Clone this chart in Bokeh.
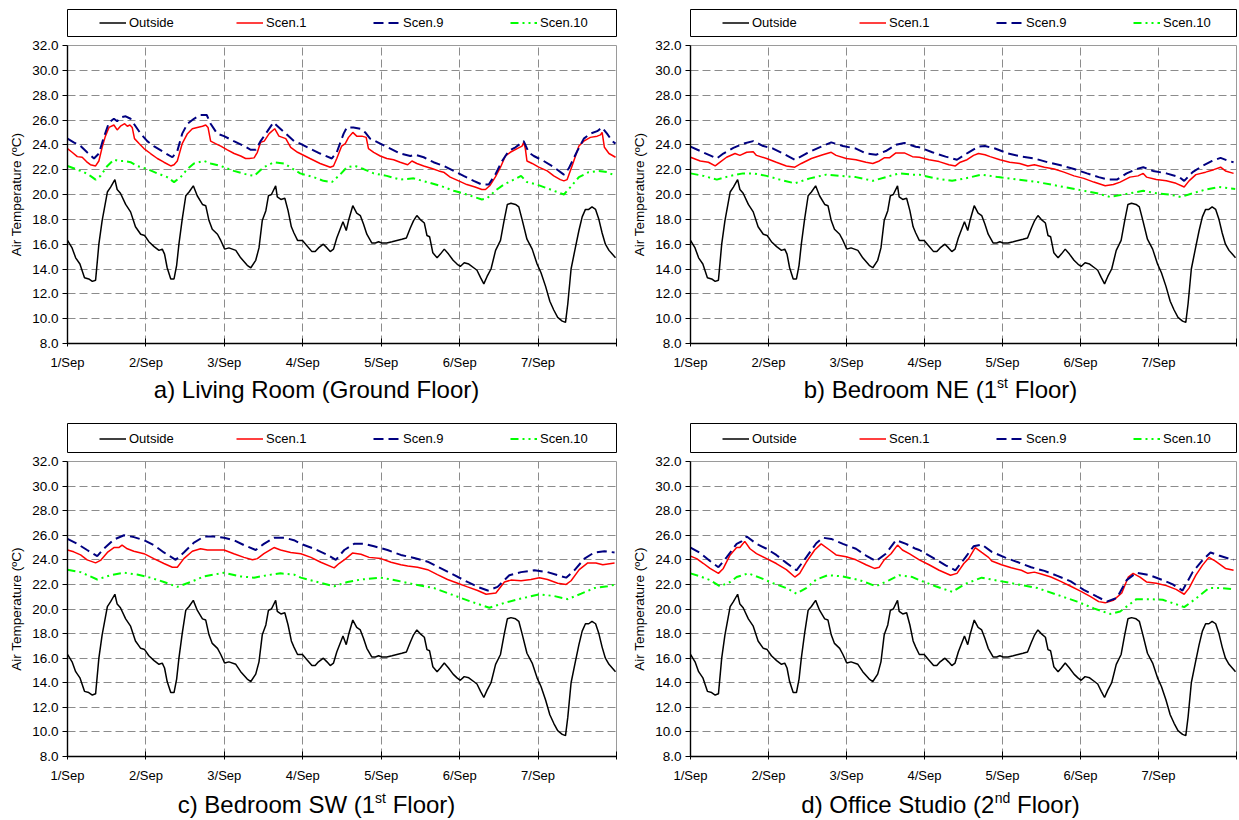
from bokeh.plotting import figure
from bokeh.models import (Range1d, FixedTicker, PrintfTickFormatter, Legend,
                          LegendItem, Label)
from bokeh.layouts import column, row
from bokeh.embed import file_html
from bokeh.resources import INLINE

FONT = "Liberation Sans"

# ---------------------------------------------------------------- data
# time axis in hours from 1 Sep 00:00
day_ticks = [0, 24, 48, 72, 96, 120, 144, 168]
day_labels = ["1/Sep", "2/Sep", "3/Sep", "4/Sep", "5/Sep", "6/Sep", "7/Sep", ""]
temp_ticks = [8, 10, 12, 14, 16, 18, 20, 22, 24, 26, 28, 30, 32]
y_title = "Air Temperature (ºC)"
series_names = ["Outside", "Scen.1", "Scen.9", "Scen.10"]

# (hour, temperature in ºC)
outside = [
    (0, 16.3), (1.4, 15.7), (2.5, 14.9), (3.8, 14.4), (5.2, 13.3), (6.5, 13.2),
    (7.6, 13.0), (8.6, 13.1), (9.6, 16.0), (10.6, 17.9), (12.2, 20.2), (13.2, 20.6),
    (14.5, 21.2), (15.2, 20.4), (16.2, 20.1), (17.8, 19.2), (19.3, 18.6), (20.8, 17.4),
    (22.4, 16.8), (23.6, 16.7), (24.9, 16.2), (26.5, 15.8), (28.0, 15.5), (29.0, 15.6),
    (29.7, 15.2), (30.5, 14.1), (31.6, 13.2), (32.6, 13.2), (33.4, 14.3), (34.1, 16.0),
    (35.1, 18.0), (36.2, 19.9), (37.2, 20.2), (38.5, 20.7), (39.7, 19.9), (41.3, 19.2),
    (42.3, 19.1), (43.3, 17.9), (44.3, 17.2), (45.9, 16.8), (46.9, 16.3), (48.1, 15.6),
    (49.4, 15.7), (51.5, 15.5), (53.0, 14.9), (55.0, 14.3), (56.1, 14.1), (57.6, 14.7),
    (58.6, 15.7), (59.6, 17.9), (60.7, 18.7), (61.5, 19.9), (62.4, 20.0), (63.7, 20.7),
    (64.2, 19.8), (65.3, 19.6), (66.5, 19.7), (67.5, 18.7), (68.5, 17.4), (69.3, 16.9),
    (70.4, 16.3), (71.9, 16.3), (73.2, 15.9), (74.8, 15.4), (75.8, 15.4), (76.8, 15.7),
    (78.3, 16.0), (79.4, 15.7), (80.4, 15.4), (81.4, 15.6), (82.4, 16.5), (84.3, 17.8),
    (85.3, 17.1), (86.0, 17.9), (87.3, 19.1), (88.5, 18.5), (89.6, 18.3), (90.6, 17.6),
    (91.6, 16.8), (93.1, 16.1), (94.2, 16.1), (95.2, 16.2), (96.2, 16.1), (97.7, 16.1),
    (99.3, 16.2), (100.8, 16.3), (102.3, 16.4), (103.7, 16.5), (104.9, 17.3), (105.9, 17.9),
    (106.9, 18.3), (107.9, 18.0), (109.2, 17.7), (110.0, 16.7), (110.8, 16.6), (111.8, 15.3),
    (113.1, 14.9), (114.1, 15.2), (115.3, 15.6), (116.6, 15.2), (118.0, 14.7), (119.2, 14.4),
    (120.2, 14.2), (121.4, 14.5), (122.8, 14.4), (124.3, 14.1), (125.3, 13.9), (126.4, 13.3),
    (127.4, 12.8), (128.4, 13.4), (129.6, 14.0), (131.0, 15.5), (132.5, 16.3), (133.6, 17.9),
    (134.6, 19.2), (135.7, 19.3), (137.1, 19.2), (138.1, 19.0), (139.1, 18.0), (140.6, 16.4),
    (142.2, 15.6), (143.7, 14.4), (144.9, 13.7), (146.3, 12.6), (147.6, 11.4), (148.8, 10.7),
    (150.0, 10.1), (151.4, 9.8), (152.4, 9.7), (153.1, 11.2), (154.1, 14.0), (155.4, 15.7),
    (156.5, 17.1), (157.5, 18.2), (158.5, 18.8), (159.5, 18.8), (160.5, 19.0), (161.6, 18.8),
    (162.6, 18.0), (163.6, 16.9), (164.6, 16.0), (165.7, 15.5), (166.7, 15.2), (167.7, 14.9),
]

living_scen1 = [
    (0, 23.7), (1.4, 23.4), (3.0, 23.05), (4.5, 23.0), (5.8, 22.65), (7.0, 22.4), (8.6, 22.3),
    (9.6, 22.7), (10.6, 23.8), (11.6, 24.7), (12.7, 25.4), (14.2, 25.6), (15.2, 25.2),
    (16.2, 25.5), (17.5, 25.7), (18.3, 25.5), (19.1, 25.6), (19.8, 25.4), (20.5, 24.5),
    (21.9, 24.1), (23.4, 23.7), (25.4, 23.3), (27.5, 22.9), (29.5, 22.6), (31.6, 22.3),
    (32.6, 22.4), (33.6, 22.7), (35.1, 24.1), (36.7, 24.9), (38.2, 25.3), (39.7, 25.4),
    (41.3, 25.5), (42.3, 25.6), (43.0, 25.4), (43.8, 24.3), (45.3, 24.1), (46.9, 23.9),
    (48.9, 23.6), (51.0, 23.3), (53.0, 23.1), (54.5, 22.9), (55.6, 22.9), (57.1, 22.95),
    (58.1, 23.4), (59.1, 24.2), (60.2, 24.3), (61.7, 24.9), (63.4, 25.3), (64.7, 24.7),
    (66.8, 24.5), (68.3, 23.8), (70.4, 23.4), (74.2, 22.9), (77.3, 22.5), (80.4, 22.2),
    (81.4, 22.3), (82.4, 22.9), (83.9, 23.9), (85.0, 24.1), (86.0, 24.6), (87.3, 25.0),
    (88.5, 24.7), (90.1, 24.7), (91.4, 24.6), (92.1, 23.7), (93.7, 23.4), (95.7, 23.1),
    (97.7, 22.9), (99.8, 22.8), (101.8, 22.6), (104.1, 22.4), (105.4, 22.7), (106.9, 22.5),
    (109.0, 22.3), (111.5, 22.1), (113.6, 21.9), (115.1, 21.8), (117.1, 21.4), (119.7, 21.1),
    (122.2, 20.8), (124.7, 20.6), (126.8, 20.4), (127.9, 20.4), (129.2, 20.7), (130.9, 21.4),
    (132.5, 22.2), (134.0, 23.1), (135.5, 23.4), (137.6, 23.7), (139.1, 23.9), (139.6, 24.2),
    (140.1, 23.7), (140.6, 22.7), (142.2, 22.5), (144.2, 22.2), (146.8, 21.9), (148.8, 21.5),
    (150.8, 21.2), (151.9, 21.1), (152.9, 21.2), (154.4, 22.3), (156.5, 23.9), (158.0, 24.3),
    (160.0, 24.6), (162.1, 24.7), (163.1, 24.8), (163.6, 25.0), (164.3, 23.8), (165.7, 23.3),
    (167.7, 23.0),
]
living_scen9 = [
    (0, 24.5), (1.9, 24.2), (4.0, 23.9), (6.0, 23.4), (8.1, 22.9), (9.6, 23.3), (11.1, 24.6),
    (12.7, 25.8), (14.2, 26.1), (15.2, 25.9), (16.2, 26.2), (17.8, 26.3), (19.3, 26.1),
    (20.3, 25.7), (22.4, 24.9), (24.4, 24.3), (26.4, 23.9), (29.5, 23.4), (32.1, 23.0),
    (33.6, 23.5), (35.1, 24.9), (36.7, 25.7), (38.7, 26.1), (40.7, 26.4), (42.6, 26.4),
    (43.8, 25.7), (45.8, 24.9), (47.9, 24.7), (50.9, 24.3), (54.0, 23.9), (56.1, 23.6),
    (57.6, 23.6), (59.1, 24.3), (61.2, 25.1), (63.0, 25.8), (64.7, 25.4), (66.8, 24.9),
    (69.3, 24.3), (71.2, 24.1), (74.2, 23.7), (77.3, 23.3), (80.9, 22.9), (82.4, 23.4),
    (84.5, 24.9), (85.5, 25.4), (87.5, 25.4), (89.6, 25.3), (91.1, 25.0), (92.6, 24.5),
    (95.7, 24.1), (98.8, 23.7), (101.8, 23.3), (104.9, 23.1), (106.4, 23.2), (109.0, 23.0),
    (112.0, 22.6), (115.1, 22.3), (118.2, 21.9), (121.2, 21.5), (124.3, 21.1), (126.8, 20.8),
    (128.9, 20.8), (130.9, 21.6), (133.0, 22.7), (135.0, 23.5), (137.1, 23.8), (138.6, 24.1),
    (139.6, 24.3), (141.1, 23.4), (142.7, 23.1), (145.7, 22.7), (148.8, 22.2), (151.9, 21.6),
    (153.4, 22.1), (156.0, 23.5), (158.0, 24.5), (160.0, 24.9), (162.1, 25.1), (163.6, 25.4),
    (165.1, 24.9), (166.7, 24.3), (167.7, 24.1),
]
living_scen10 = [
    (0, 22.3), (2.5, 22.05), (5.0, 21.8), (7.0, 21.5), (8.6, 21.2), (10.1, 21.5), (12.2, 22.3),
    (14.2, 22.8), (15.7, 22.7), (17.3, 22.7), (19.3, 22.6), (21.3, 22.3), (24.4, 22.05),
    (27.5, 21.7), (30.5, 21.4), (32.6, 21.0), (34.6, 21.4), (36.7, 22.05), (38.7, 22.5),
    (41.8, 22.7), (43.8, 22.5), (46.9, 22.3), (50.9, 21.9), (55.0, 21.6), (57.1, 21.5),
    (60.1, 22.2), (63.2, 22.6), (66.3, 22.5), (69.3, 22.0), (71.2, 21.7), (75.3, 21.4),
    (78.3, 21.1), (80.9, 21.0), (83.4, 21.6), (85.5, 22.2), (88.0, 22.3), (90.6, 22.05),
    (93.7, 21.7), (97.7, 21.5), (101.8, 21.2), (105.9, 21.3), (110.0, 21.0), (114.1, 20.7),
    (118.2, 20.3), (122.2, 20.0), (126.8, 19.6), (128.4, 19.7), (130.9, 20.3), (133.5, 20.8),
    (136.6, 21.2), (138.8, 21.5), (140.6, 21.0), (143.7, 20.8), (147.8, 20.4), (151.9, 20.0),
    (153.9, 20.6), (156.5, 21.4), (159.5, 21.8), (162.6, 21.9), (165.1, 21.8), (167.7, 21.5),
]

bedroom_ne_scen1 = [
    (0, 23.0), (3.0, 22.7), (5.5, 22.6), (7.6, 22.3), (9.1, 22.6), (11.1, 23.0), (13.7, 23.3),
    (15.2, 23.15), (17.3, 23.4), (19.3, 23.45), (20.3, 23.15), (23.4, 22.9), (26.4, 22.6),
    (29.5, 22.3), (32.1, 22.2), (34.1, 22.5), (37.2, 22.9), (40.7, 23.2), (43.3, 23.4),
    (44.8, 23.15), (47.9, 22.9), (50.9, 22.8), (54.0, 22.6), (56.1, 22.5), (58.1, 22.7),
    (59.6, 22.95), (61.2, 22.95), (63.2, 23.35), (65.8, 23.35), (68.3, 23.05), (70.4, 23.0),
    (73.4, 22.8), (76.5, 22.65), (79.5, 22.4), (81.5, 22.3), (83.0, 22.6), (85.1, 22.8),
    (87.1, 23.15), (88.6, 23.3), (90.6, 23.2), (92.2, 23.05), (95.2, 22.8), (98.2, 22.6),
    (101.3, 22.5), (103.8, 22.3), (105.8, 22.4), (108.9, 22.2), (111.9, 22.05), (114.9, 21.8),
    (118.0, 21.5), (121.0, 21.3), (124.1, 21.0), (127.6, 20.7), (130.1, 20.8), (132.2, 21.0),
    (135.2, 21.4), (137.7, 21.5), (139.3, 21.7), (140.3, 21.4), (143.3, 21.2), (146.4, 21.1),
    (149.4, 20.9), (151.9, 20.6), (153.4, 21.1), (155.5, 21.6), (158.5, 21.8), (161.0, 22.0),
    (163.1, 22.2), (164.6, 21.9), (167.1, 21.7),
]
bedroom_ne_scen9 = [
    (0, 23.85), (3.0, 23.5), (6.0, 23.15), (8.1, 22.9), (10.1, 23.3), (13.2, 23.75),
    (16.2, 24.1), (19.3, 24.3), (22.4, 23.9), (25.4, 23.7), (28.5, 23.3), (32.1, 22.8),
    (35.6, 23.3), (39.7, 23.8), (43.3, 24.2), (46.9, 23.9), (50.9, 23.7), (54.0, 23.3),
    (57.1, 23.2), (60.1, 23.5), (63.2, 24.0), (65.8, 24.15), (69.3, 23.85), (70.4, 23.8),
    (74.4, 23.4), (78.5, 23.05), (82.0, 22.8), (85.6, 23.4), (88.6, 23.85), (90.6, 23.9),
    (93.7, 23.7), (97.7, 23.3), (101.8, 23.05), (105.8, 22.9), (109.9, 22.6), (113.9, 22.35),
    (118.0, 22.05), (122.0, 21.7), (125.6, 21.4), (128.6, 21.2), (131.2, 21.2), (134.2, 21.7),
    (137.2, 22.05), (139.3, 22.2), (142.3, 21.9), (146.4, 21.7), (150.4, 21.4), (151.9, 21.1),
    (154.5, 21.8), (157.5, 22.3), (160.5, 22.7), (163.1, 22.95), (165.6, 22.7), (167.1, 22.6),
]
bedroom_ne_scen10 = [
    (0, 21.7), (4.0, 21.5), (8.1, 21.2), (12.2, 21.5), (16.2, 21.7), (19.3, 21.7), (23.4, 21.5),
    (27.5, 21.2), (32.1, 20.9), (36.7, 21.3), (41.8, 21.6), (45.8, 21.5), (50.9, 21.4),
    (56.1, 21.1), (60.1, 21.4), (64.2, 21.7), (68.3, 21.6), (70.4, 21.6), (75.4, 21.3),
    (80.5, 21.1), (84.6, 21.3), (89.6, 21.6), (94.7, 21.4), (100.8, 21.2), (106.8, 21.0),
    (112.9, 20.7), (119.0, 20.4), (125.1, 20.1), (129.1, 19.8), (133.2, 20.0), (139.3, 20.3),
    (143.3, 20.1), (147.4, 20.0), (150.9, 19.8), (154.5, 20.1), (158.5, 20.4), (162.6, 20.6),
    (165.6, 20.5), (167.6, 20.45),
]

bedroom_sw_scen1 = [
    (0, 24.8), (1.9, 24.65), (4.0, 24.4), (6.0, 24.0), (8.6, 23.75), (10.1, 23.95),
    (12.2, 24.6), (14.2, 25.0), (15.7, 25.0), (16.7, 25.2), (18.3, 24.9), (20.3, 24.7),
    (23.4, 24.5), (26.4, 24.1), (29.5, 23.7), (32.1, 23.4), (33.6, 23.4), (35.6, 24.1),
    (38.2, 24.7), (40.7, 24.9), (42.8, 24.8), (44.8, 24.8), (47.9, 24.8), (50.9, 24.5),
    (54.0, 24.2), (56.6, 24.0), (58.1, 24.1), (60.1, 24.5), (63.2, 25.0), (65.2, 24.8),
    (68.3, 24.6), (71.4, 24.5), (74.5, 24.2), (77.5, 23.8), (81.6, 23.35), (83.1, 23.7),
    (85.2, 24.1), (87.2, 24.55), (89.8, 24.45), (92.3, 24.2), (95.9, 24.1), (99.0, 23.8),
    (102.0, 23.6), (104.1, 23.5), (107.1, 23.4), (110.2, 23.2), (113.2, 22.8), (116.3, 22.4),
    (119.4, 22.1), (122.4, 21.8), (125.5, 21.5), (128.1, 21.2), (131.1, 21.3), (133.7, 22.2),
    (135.7, 22.35), (138.8, 22.3), (141.8, 22.4), (144.4, 22.55), (146.9, 22.4), (150.0, 22.1),
    (152.6, 22.0), (154.1, 22.3), (156.6, 23.2), (159.2, 23.75), (161.7, 23.75), (163.8, 23.6),
    (167.4, 23.75),
]
bedroom_sw_scen9 = [
    (0, 25.7), (3.0, 25.3), (6.0, 24.8), (9.1, 24.3), (11.1, 24.9), (14.2, 25.65), (17.3, 26.0),
    (20.3, 25.85), (23.4, 25.6), (26.4, 25.2), (29.5, 24.6), (33.1, 24.0), (35.6, 24.6),
    (38.7, 25.4), (41.8, 25.9), (44.8, 25.9), (47.9, 25.8), (50.9, 25.6), (54.0, 25.2),
    (57.6, 24.8), (60.1, 25.3), (63.2, 25.8), (66.3, 25.8), (69.3, 25.6), (71.4, 25.3),
    (75.5, 24.9), (79.6, 24.4), (82.1, 24.0), (84.7, 24.8), (87.7, 25.3), (90.8, 25.3),
    (93.8, 25.1), (97.9, 24.8), (102.0, 24.4), (106.1, 24.15), (110.2, 23.85), (114.3, 23.3),
    (118.4, 22.75), (122.4, 22.2), (126.0, 21.75), (128.6, 21.5), (131.6, 21.8), (135.2, 22.75),
    (138.8, 23.0), (142.9, 23.15), (146.9, 23.0), (150.0, 22.75), (152.6, 22.55), (155.1, 23.15),
    (158.2, 24.1), (161.2, 24.6), (164.3, 24.7), (167.4, 24.6),
]
bedroom_sw_scen10 = [
    (0, 23.2), (4.0, 23.0), (9.1, 22.4), (13.2, 22.75), (17.3, 22.95), (21.3, 22.8),
    (25.4, 22.55), (29.5, 22.2), (33.6, 21.8), (37.7, 22.2), (41.8, 22.65), (47.9, 22.95),
    (53.0, 22.65), (57.1, 22.55), (61.2, 22.75), (65.2, 22.9), (69.3, 22.8), (71.4, 22.55),
    (76.5, 22.2), (81.6, 21.85), (85.7, 22.2), (89.8, 22.4), (95.9, 22.55), (101.0, 22.3),
    (106.1, 22.0), (112.2, 21.7), (117.3, 21.2), (123.5, 20.6), (129.1, 20.1), (133.7, 20.5),
    (138.8, 20.85), (144.4, 21.2), (149.0, 21.05), (153.1, 20.8), (157.2, 21.25), (161.2, 21.7),
    (165.3, 21.85), (167.9, 22.0),
]

office_scen1 = [
    (0, 24.3), (1.9, 24.1), (4.0, 23.7), (6.0, 23.3), (8.6, 22.9), (10.1, 23.3), (12.2, 24.4),
    (14.2, 25.0), (15.2, 25.0), (16.7, 25.5), (18.3, 24.9), (20.3, 24.5), (23.4, 24.1),
    (26.4, 23.7), (29.5, 23.2), (32.1, 22.6), (33.6, 22.9), (35.6, 23.8), (38.2, 24.8),
    (40.2, 25.3), (42.8, 24.8), (44.8, 24.4), (47.9, 24.25), (50.9, 24.0), (54.0, 23.6),
    (56.6, 23.3), (58.1, 23.4), (59.6, 24.0), (61.7, 24.5), (63.7, 25.2), (65.2, 24.8),
    (67.3, 24.5), (70.4, 24.0), (73.4, 23.6), (76.5, 23.15), (80.0, 22.75), (82.0, 22.9),
    (84.1, 23.7), (85.6, 24.1), (87.6, 25.0), (89.6, 24.6), (91.7, 24.2), (92.7, 23.9),
    (95.7, 23.6), (98.7, 23.35), (101.8, 23.15), (103.8, 22.9), (105.8, 23.0), (107.9, 22.85),
    (110.9, 22.6), (113.9, 22.25), (117.0, 21.85), (120.0, 21.45), (123.1, 21.0), (125.6, 20.6),
    (127.6, 20.5), (130.1, 20.7), (132.7, 21.3), (134.7, 22.6), (136.2, 22.9), (138.3, 22.6),
    (140.3, 22.2), (143.3, 22.1), (146.4, 21.9), (149.4, 21.6), (151.9, 21.2), (153.4, 21.7),
    (155.5, 22.75), (157.5, 23.55), (159.5, 24.2), (161.5, 23.9), (164.6, 23.3), (167.1, 23.15),
]
office_scen9 = [
    (0, 25.0), (3.0, 24.55), (6.0, 23.9), (8.6, 23.4), (11.1, 24.2), (14.2, 25.3), (15.7, 25.5),
    (17.3, 25.9), (20.3, 25.3), (23.4, 24.9), (26.4, 24.4), (29.5, 23.75), (32.6, 23.15),
    (35.6, 24.2), (38.7, 25.35), (40.7, 25.8), (43.3, 25.7), (46.9, 25.3), (50.9, 24.9),
    (54.0, 24.35), (57.1, 23.9), (60.1, 24.5), (63.2, 25.6), (66.3, 25.3), (69.3, 24.9),
    (70.4, 24.8), (74.4, 24.2), (78.5, 23.55), (81.5, 23.15), (84.6, 24.2), (87.1, 25.1),
    (89.6, 25.25), (92.7, 24.65), (96.7, 24.2), (100.8, 23.8), (104.8, 23.4), (108.9, 23.1),
    (112.9, 22.7), (117.0, 22.25), (121.0, 21.55), (125.1, 21.0), (128.1, 20.6), (131.2, 20.9),
    (134.2, 22.35), (137.2, 22.95), (141.3, 22.75), (145.3, 22.35), (148.4, 22.0), (151.4, 21.5),
    (154.5, 23.0), (157.5, 23.95), (160.0, 24.6), (162.6, 24.35), (165.6, 24.1), (167.1, 24.0),
]
office_scen10 = [
    (0, 22.9), (3.0, 22.65), (6.0, 22.35), (9.1, 21.85), (12.2, 22.2), (14.2, 22.6), (17.8, 22.9),
    (21.3, 22.55), (25.4, 22.1), (29.5, 21.7), (32.6, 21.25), (35.6, 21.7), (38.7, 22.4),
    (42.3, 22.75), (46.9, 22.65), (52.0, 22.35), (57.1, 21.85), (61.2, 22.35), (64.2, 22.75),
    (68.3, 22.6), (70.4, 22.35), (75.4, 21.85), (80.5, 21.4), (84.6, 22.05), (89.6, 22.55),
    (94.7, 22.3), (100.8, 22.0), (106.8, 21.7), (112.9, 21.15), (119.0, 20.6), (124.1, 20.05),
    (129.1, 19.6), (132.2, 19.8), (137.2, 20.8), (141.3, 20.8), (145.3, 20.75), (150.4, 20.3),
    (151.9, 20.15), (155.5, 20.85), (159.5, 21.7), (163.6, 21.7), (167.1, 21.6),
]

# caption pieces: (text, superscript?)
captions = [
    [("a) Living Room (Ground Floor)", False)],
    [("b) Bedroom NE (1", False), ("st", True), (" Floor)", False)],
    [("c) Bedroom SW (1", False), ("st", True), (" Floor)", False)],
    [("d) Office Studio (2", False), ("nd", True), (" Floor)", False)],
]
panel_series = [
    [outside, living_scen1, living_scen9, living_scen10],
    [outside, bedroom_ne_scen1, bedroom_ne_scen9, bedroom_ne_scen10],
    [outside, bedroom_sw_scen1, bedroom_sw_scen9, bedroom_sw_scen10],
    [outside, office_scen1, office_scen9, office_scen10],
]

# ---------------------------------------------------------------- styling
STYLE = {
    "Outside": dict(line_color="black", line_width=1.5),
    "Scen.1": dict(line_color="#ff0000", line_width=1.5),
    "Scen.9": dict(line_color="#000080", line_width=2, line_dash="10 5"),
    "Scen.10": dict(line_color="#00ff00", line_width=2, line_dash="8 4 2 4 2 4"),
}

# Arial / Liberation Sans advance widths (em) for laying out captions
EM = {" ": .278, "(": .333, ")": .333, ".": .278, "1": .556, "2": .556,
      "a": .556, "b": .556, "c": .5, "d": .556, "e": .556, "f": .278, "g": .556,
      "i": .222, "l": .222, "m": .833, "n": .556, "o": .556, "r": .333, "s": .5,
      "t": .278, "u": .556, "v": .5, "B": .667, "E": .667, "F": .611, "G": .778,
      "L": .556, "N": .722, "O": .778, "R": .722, "S": .667, "W": .944}
CAP_SIZE, SUP_SIZE = 24, 14


def text_width(s, size):
    return sum(EM.get(ch, .556) for ch in s) * size


# column geometry (figure width, frame borders, caption centre on the page row)
COLS = [dict(width=620, left=67, right=4, leg_right=4, cap_x=316),
        dict(width=619, left=70, right=1, leg_right=3, cap_x=320)]
# row geometry: legend strip, plot, caption strip (heights, borders, caption middle)
ROWS = [dict(leg_h=37, leg_top=9, main_h=335, main_top=8, main_bottom=29,
             cap_h=38, cap_mid=21),
        dict(leg_h=43, leg_top=13, main_h=332, main_top=8, main_bottom=28,
             cap_h=35, cap_mid=16)]


def blank_figure(width, height, **kw):
    f = figure(width=width, height=height, x_range=Range1d(0, 1),
               y_range=Range1d(0, 1), output_backend="svg", toolbar_location=None,
               x_axis_location=None, y_axis_location=None,
               background_fill_color="white", border_fill_color="white", **kw)
    f.grid.visible = False
    return f


def legend_figure(c, r):
    lf = blank_figure(c["width"], r["leg_h"],
                      min_border_left=c["left"], min_border_right=c["leg_right"],
                      min_border_top=r["leg_top"], min_border_bottom=1,
                      outline_line_color="black", outline_line_width=1)
    items = []
    for name in series_names:
        # sample line for the key only; the NaN point is never drawn
        rr = lf.line(x=[float("nan")], y=[float("nan")], **STYLE[name])
        items.append(LegendItem(label=name, renderers=[rr]))
    leg = Legend(items=items, orientation="horizontal", location=(32, 6),
                 padding=0, margin=0, spacing=5, glyph_width=27, glyph_height=15,
                 label_width=102, label_height=15, label_standoff=3,
                 label_text_font=FONT, label_text_font_size="13px",
                 label_text_color="black", border_line_alpha=0,
                 background_fill_alpha=0)
    lf.add_layout(leg)
    return lf


def caption_figure(c, r, caption):
    cf = blank_figure(c["width"], r["cap_h"], min_border_left=c["left"],
                      min_border_right=c["right"], min_border_top=0,
                      min_border_bottom=0, outline_line_color=None)
    widths = [text_width(t, SUP_SIZE if sup else CAP_SIZE) for t, sup in caption]
    # screen x is measured from the frame's left edge
    x = c["cap_x"] - c["left"] - sum(widths) / 2
    for (txt, sup), w in zip(caption, widths):
        lead = len(txt) - len(txt.lstrip(" "))
        cf.add_layout(Label(x=x + lead * EM[" "] * CAP_SIZE,
                            y=r["cap_mid"] + (7 if sup else 0),
                            x_units="screen", y_units="screen", text=txt.strip(),
                            text_font=FONT,
                            text_font_size=f"{SUP_SIZE if sup else CAP_SIZE}px",
                            text_color="black", text_align="left",
                            text_baseline="middle"))
        x += w
    return cf


def main_figure(c, r, series):
    p = figure(width=c["width"], height=r["main_h"], x_range=Range1d(0, 168),
               y_range=Range1d(8, 32), output_backend="svg", toolbar_location=None,
               min_border_left=c["left"], min_border_right=c["right"],
               min_border_top=r["main_top"], min_border_bottom=r["main_bottom"],
               outline_line_color="#9a9a9a", outline_line_width=1,
               background_fill_color="white", border_fill_color="white")

    for name, data in zip(series_names, series):
        hours = [h for h, _ in data]
        temps = [t for _, t in data]
        p.line(hours, temps, **STYLE[name])

    p.xaxis.ticker = FixedTicker(ticks=day_ticks)
    p.xaxis.major_label_overrides = dict(zip(day_ticks, day_labels))
    p.yaxis.ticker = FixedTicker(ticks=temp_ticks)
    p.yaxis.formatter = PrintfTickFormatter(format="%.1f")
    p.xgrid.ticker = FixedTicker(ticks=day_ticks)
    p.ygrid.ticker = FixedTicker(ticks=temp_ticks)
    p.grid.grid_line_color = "#8c8c8c"
    p.grid.grid_line_dash = "8 4"
    p.grid.grid_line_width = 1

    for ax in (p.xaxis, p.yaxis):
        ax.axis_line_color = "black"
        ax.axis_line_width = 1.4
        ax.major_tick_line_color = "black"
        ax.minor_tick_line_color = None
        ax.major_label_text_font = FONT
        ax.major_label_text_color = "black"
    p.xaxis.major_tick_in = 5
    p.xaxis.major_tick_out = 3
    p.xaxis.major_label_standoff = 8
    p.xaxis.major_label_text_font_size = "13px"
    p.yaxis.major_tick_in = 0
    p.yaxis.major_tick_out = 5
    p.yaxis.major_label_standoff = 4
    p.yaxis.major_label_text_font_size = "13.5px"
    p.yaxis.axis_label = y_title
    p.yaxis.axis_label_text_font = FONT
    p.yaxis.axis_label_text_font_size = "13.5px"
    p.yaxis.axis_label_text_font_style = "normal"
    p.yaxis.axis_label_text_color = "black"
    p.yaxis.axis_label_standoff = 5
    return p


panels = []
for i in range(4):
    c = COLS[i % 2]
    r = ROWS[i // 2]
    panels.append(column(legend_figure(c, r),
                         main_figure(c, r, panel_series[i]),
                         caption_figure(c, r, captions[i])))

layout = column(row(panels[0], panels[1]), row(panels[2], panels[3]))

open("out.html", "w").write(file_html(layout, INLINE))
